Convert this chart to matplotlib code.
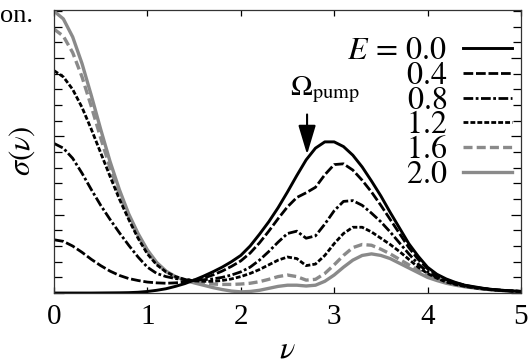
import numpy as np
import matplotlib
matplotlib.use("Agg")
import matplotlib.pyplot as plt
from matplotlib.ticker import MultipleLocator

plt.rcParams['font.family'] = 'serif'
plt.rcParams['font.serif'] = ['Liberation Serif', 'DejaVu Serif']
plt.rcParams['mathtext.fontset'] = 'stix'
plt.rcParams['lines.scale_dashes'] = False

# frequency grid (nu) and sigma(nu) for each field strength E
nu = [round(0.1 * i, 1) for i in range(51)]

s00 = [0.0, 0.0, 0.0, 0.0, 0.0, 0.001, 0.002, 0.003, 0.005, 0.01,
       0.02, 0.035, 0.055, 0.085, 0.12, 0.165, 0.215, 0.27, 0.33, 0.40,
       0.48, 0.60, 0.75, 0.91, 1.09, 1.29, 1.50, 1.70, 1.85, 1.93,
       1.93, 1.87, 1.76, 1.61, 1.43, 1.24, 1.03, 0.83, 0.63, 0.47,
       0.33, 0.24, 0.18, 0.135, 0.10, 0.08, 0.06, 0.045, 0.035, 0.027, 0.02]
s04 = [0.68, 0.66, 0.60, 0.52, 0.43, 0.35, 0.28, 0.225, 0.185, 0.16,
       0.14, 0.13, 0.125, 0.13, 0.14, 0.16, 0.19, 0.23, 0.28, 0.34,
       0.41, 0.51, 0.64, 0.79, 0.95, 1.10, 1.22, 1.28, 1.35, 1.51,
       1.64, 1.65, 1.57, 1.44, 1.29, 1.12, 0.94, 0.76, 0.58, 0.43,
       0.31, 0.23, 0.17, 0.13, 0.10, 0.075, 0.058, 0.045, 0.035, 0.027, 0.02]
s08 = [1.91, 1.85, 1.72, 1.53, 1.32, 1.12, 0.94, 0.77, 0.61, 0.46,
       0.33, 0.25, 0.21, 0.185, 0.17, 0.165, 0.17, 0.18, 0.20, 0.23,
       0.27, 0.33, 0.42, 0.53, 0.65, 0.76, 0.79, 0.70, 0.73, 0.88,
       1.05, 1.17, 1.18, 1.12, 1.02, 0.91, 0.78, 0.64, 0.50, 0.37,
       0.27, 0.20, 0.15, 0.115, 0.09, 0.07, 0.054, 0.042, 0.033, 0.026, 0.02]
s12 = [2.84, 2.76, 2.60, 2.37, 2.09, 1.79, 1.49, 1.20, 0.94, 0.70,
       0.50, 0.36, 0.27, 0.21, 0.175, 0.155, 0.15, 0.15, 0.16, 0.18,
       0.21, 0.25, 0.30, 0.36, 0.42, 0.46, 0.44, 0.35, 0.37, 0.48,
       0.63, 0.76, 0.84, 0.84, 0.78, 0.70, 0.62, 0.53, 0.43, 0.33,
       0.25, 0.19, 0.14, 0.11, 0.085, 0.066, 0.052, 0.04, 0.032, 0.025, 0.02]
s16 = [3.37, 3.28, 3.07, 2.76, 2.38, 1.98, 1.60, 1.26, 0.97, 0.73,
       0.53, 0.38, 0.27, 0.20, 0.16, 0.14, 0.125, 0.115, 0.11, 0.11,
       0.115, 0.125, 0.145, 0.175, 0.21, 0.23, 0.21, 0.165, 0.175, 0.25,
       0.36, 0.48, 0.58, 0.62, 0.61, 0.56, 0.50, 0.43, 0.36, 0.29,
       0.23, 0.18, 0.14, 0.11, 0.085, 0.066, 0.052, 0.04, 0.032, 0.025, 0.02]
s20 = [3.60, 3.50, 3.27, 2.93, 2.52, 2.09, 1.68, 1.32, 1.01, 0.76,
       0.55, 0.39, 0.28, 0.21, 0.165, 0.13, 0.10, 0.07, 0.045, 0.025,
       0.015, 0.02, 0.035, 0.06, 0.085, 0.10, 0.10, 0.09, 0.10, 0.15,
       0.23, 0.33, 0.42, 0.48, 0.50, 0.48, 0.44, 0.38, 0.32, 0.26,
       0.20, 0.16, 0.125, 0.10, 0.08, 0.065, 0.052, 0.04, 0.032, 0.025, 0.02]

labels = [r'$E\,=\,0.0$', '$0.4$', '$0.8$', '$1.2$', '$1.6$', '$2.0$']
series = [s00, s04, s08, s12, s16, s20]

gray = '#8a8a8a'
styles = [
    dict(color='black', lw=2.1, ls='-'),
    dict(color='black', lw=2.0, ls=(0, (7, 2))),
    dict(color='black', lw=2.0, ls=(0, (7, 1.8, 2, 1.8))),
    dict(color='black', lw=2.0, ls=(0, (3.5, 1.5))),
    dict(color=gray, lw=2.4, ls=(0, (6.5, 3))),
    dict(color=gray, lw=2.4, ls='-'),
]

fig = plt.figure(figsize=(5.31, 3.60), dpi=100)
ax = fig.add_axes([0.1017, 0.186, 0.8793, 0.7876])

# draw bottom curves last so solid black stays on top like the original
for s, st in zip(series[::-1], styles[::-1]):
    ax.plot(nu, s, solid_capstyle='butt', dash_capstyle='butt', **st)

ax.set_xlim(0, 5)
ax.set_ylim(0, 3.62)
ax.xaxis.set_major_locator(MultipleLocator(1))
ax.yaxis.set_major_locator(MultipleLocator(1))
ax.yaxis.set_minor_locator(MultipleLocator(0.2))
ax.tick_params(axis='x', which='both', direction='in', top=True, length=4,
               width=0.9, labelsize=21, pad=8)
ax.tick_params(axis='y', which='major', direction='in', right=True, length=7,
               width=0.9, labelleft=False)
ax.tick_params(axis='y', which='minor', direction='in', right=True, length=6,
               width=0.9)
for sp in ax.spines.values():
    sp.set_linewidth(0.9)
    sp.set_color('#333333')

ax.set_xlabel(r'$\nu$', fontsize=23, labelpad=4)
ax.set_ylabel(r'$\sigma(\nu)$', fontsize=22, labelpad=9)

# pump frequency marker
ax.annotate('', xy=(2.71, 1.77), xytext=(2.71, 2.28),
            arrowprops=dict(arrowstyle='-|>,head_length=0.9,head_width=0.27',
                            mutation_scale=20, color='black', lw=1.5,
                            shrinkA=0, shrinkB=0))
ax.text(2.9, 2.6, r'$\Omega_{\rm pump}$', fontsize=21, ha='center', va='center')

# legend: right-aligned values with line samples on the right
for i, (lab, st) in enumerate(zip(labels, styles)):
    yf = (293 - (48 + 24.8 * i)) / 283.5
    ax.text(0.8415, yf, lab, transform=ax.transAxes, fontsize=23,
            ha='right', va='center_baseline')
    ax.plot([0.876, 0.981], [yf, yf], transform=ax.transAxes, clip_on=False,
            **st)

fig.text(0.0, 0.94, 'on.', fontsize=19, ha='left', va='baseline')

fig.savefig('out.png', dpi=100)
